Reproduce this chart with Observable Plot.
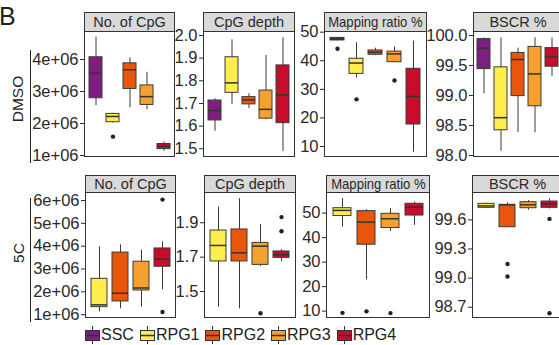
<!DOCTYPE html>
<html><head><meta charset="utf-8">
<script src="https://cdn.jsdelivr.net/npm/d3@7"></script>
<script src="https://cdn.jsdelivr.net/npm/@observablehq/plot@0.6"></script>
<style>
body{margin:0;background:#fff;}
#fig{position:relative;width:559px;height:345px;overflow:hidden;font-family:"Liberation Sans",Arial,sans-serif;color:#222;background:#fff;}
.strip{position:absolute;box-sizing:border-box;border:1px solid #333;background:#d9d9d9;display:flex;align-items:center;justify-content:center;font-size:14.5px;white-space:nowrap;color:#2a2a2a;overflow:hidden;}
.strip span{display:inline-block;}
.rowlab{position:absolute;font-size:15.5px;line-height:1;white-space:nowrap;transform:translate(-50%,-50%) rotate(-90deg);}
.vline{position:absolute;width:1.3px;background:#222;}
#legend{position:absolute;left:85px;top:325px;display:flex;gap:6px;align-items:center;font-size:16px;line-height:20px;}
.item{display:flex;align-items:center;gap:1px;}
svg text{font-family:"Liberation Sans",Arial,sans-serif;}
</style></head>
<body><div id="fig"></div>
<script>
// ---------- data ----------
const groups = ["SSC", "RPG1", "RPG2", "RPG3", "RPG4"];
const groupColors = ["#7E1E80", "#FDEE4E", "#E8560C", "#F4A12F", "#C70C2C"];
const groupsDMSO = ["SSC", "RPG1", "RPG2", "RPG3", "RPG4"];
const groups5C = ["RPG1", "RPG2", "RPG3", "RPG4"];
const rowLabels = ["DMSO", "5C"];
const panelTitles = ["No. of CpG", "CpG depth", "Mapping ratio %", "BSCR %"];

// [group, lower whisker, Q1, median, Q3, upper whisker]
const dmsoCpgN = [
  ["SSC", 2.56e6, 2.79e6, 3.57e6, 4.07e6, 4.70e6],
  ["RPG1", 2.01e6, 2.04e6, 2.22e6, 2.30e6, 2.32e6],
  ["RPG2", 2.49e6, 3.08e6, 3.68e6, 3.88e6, 4.05e6],
  ["RPG3", 2.43e6, 2.58e6, 2.84e6, 3.19e6, 3.60e6],
  ["RPG4", 1.13e6, 1.20e6, 1.29e6, 1.36e6, 1.42e6]
];
const dmsoCpgNOut = [["RPG1", 1.59e6]];

const dmsoDepth = [
  ["SSC", 1.577, 1.625, 1.669, 1.713, 1.721],
  ["RPG1", 1.696, 1.747, 1.791, 1.904, 1.981],
  ["RPG2", 1.677, 1.696, 1.716, 1.728, 1.743],
  ["RPG3", 1.628, 1.633, 1.674, 1.757, 1.912],
  ["RPG4", 1.488, 1.613, 1.738, 1.868, 1.990]
];
const dmsoDepthOut = [];

const dmsoMap = [
  ["SSC", 47.0, 47.1, 47.6, 48.0, 48.2],
  ["RPG1", 34.0, 35.4, 39.2, 40.7, 46.3],
  ["RPG2", 41.8, 42.1, 43.0, 43.6, 44.4],
  ["RPG3", 39.3, 39.5, 42.4, 43.2, 44.8],
  ["RPG4", 8.0, 17.7, 27.5, 37.2, 46.9]
];
const dmsoMapOut = [["SSC", 44.2], ["RPG1", 26.5], ["RPG3", 33.1]];

const dmsoBscr = [
  ["SSC", 99.03, 99.44, 99.79, 99.94, 99.96],
  ["RPG1", 98.07, 98.42, 98.63, 99.47, 99.96],
  ["RPG2", 98.38, 98.99, 99.60, 99.71, 99.79],
  ["RPG3", 98.38, 98.82, 99.36, 99.81, 99.96],
  ["RPG4", 99.32, 99.48, 99.65, 99.79, 99.96]
];
const dmsoBscrOut = [];

const c5CpgN = [
  ["RPG1", 1.12e6, 1.33e6, 1.43e6, 2.57e6, 3.97e6],
  ["RPG2", 1.26e6, 1.58e6, 1.94e6, 3.72e6, 4.06e6],
  ["RPG3", 1.33e6, 2.06e6, 2.17e6, 3.32e6, 3.83e6],
  ["RPG4", 2.09e6, 3.10e6, 3.43e6, 3.90e6, 4.19e6]
];
const c5CpgNOut = [["RPG4", 6.04e6], ["RPG4", 1.12e6]];

const c5Depth = [
  ["RPG1", 1.409, 1.675, 1.768, 1.855, 1.991],
  ["RPG2", 1.399, 1.675, 1.725, 1.861, 2.040],
  ["RPG3", 1.646, 1.655, 1.764, 1.783, 1.890],
  ["RPG4", 1.675, 1.696, 1.714, 1.733, 1.743]
];
const c5DepthOut = [["RPG3", 1.374], ["RPG4", 1.933], ["RPG4", 1.851]];

const c5Map = [
  ["RPG1", 44.3, 48.8, 51.1, 52.0, 55.9],
  ["RPG2", 22.8, 37.1, 46.3, 50.8, 51.4],
  ["RPG3", 42.5, 43.9, 47.7, 49.7, 51.8],
  ["RPG4", 45.0, 49.0, 52.4, 53.8, 54.5]
];
const c5MapOut = [["RPG1", 9.3], ["RPG2", 9.9], ["RPG3", 9.2]];

const c5Bscr = [
  ["RPG1", 99.720, 99.724, 99.744, 99.765, 99.772],
  ["RPG2", 99.524, 99.524, 99.755, 99.755, 99.775],
  ["RPG3", 99.700, 99.720, 99.755, 99.782, 99.800],
  ["RPG4", 99.713, 99.724, 99.765, 99.789, 99.816]
];
const c5BscrOut = [["RPG2", 99.146], ["RPG2", 99.016], ["RPG4", 99.61], ["RPG4", 98.638]];

// tick values
const ticksDmsoCpgN = [1e6, 2e6, 3e6, 4e6];
const ticksDmsoDepth = [1.5, 1.6, 1.7, 1.8, 1.9, 2.0];
const ticksDmsoMap = [10, 20, 30, 40, 50];
const ticksDmsoBscr = [98.0, 98.5, 99.0, 99.5, 100.0];
const ticks5CpgN = [1e6, 2e6, 3e6, 4e6, 5e6, 6e6];
const ticks5Depth = [1.5, 1.7, 1.9];
const ticks5Map = [10, 20, 30, 40, 50];
const ticks5Bscr = [98.7, 99.0, 99.3, 99.6];

// ---------- layout ----------
const fig = document.getElementById("fig");
const sci = d => `${Math.round(d / 1e6)}e+06`;
const f1 = d3.format(".1f");
const fInt = d3.format("d");
const ML = 60;

function boxPanel(stats, outliers, domainX, domainY, ticks, fmt, box, stripTop, title, titleScale) {
  const [L, T, R, B] = box;
  const rows = stats.map(([g, lo, q1, md, q3, hi]) => ({g, lo, q1, md, q3, hi}));
  const outs = outliers.map(([g, v]) => ({g, v}));
  const svg = Plot.plot({
    width: R - L + ML + 1,
    height: B - T + 2,
    marginLeft: ML, marginRight: 1, marginTop: 1, marginBottom: 1,
    style: {background: "transparent", fontSize: "16.5px", fontFamily: '"Liberation Sans", Arial, sans-serif', color: "#2a2a2a", overflow: "visible"},
    x: {type: "band", domain: domainX, paddingInner: 0.25, paddingOuter: 0.225, axis: null},
    y: {domain: domainY, ticks: ticks, tickFormat: fmt, tickSize: 4, tickPadding: 2, label: null},
    color: {domain: groups, range: groupColors},
    marks: [
      Plot.ruleX(rows, {x: "g", y1: "lo", y2: "hi", stroke: "#3a3a3a", strokeWidth: 1}),
      Plot.barY(rows, {x: "g", y1: "q1", y2: "q3", fill: "g", stroke: "#3a3a3a", strokeWidth: 1}),
      Plot.tickY(rows, {x: "g", y: "md", stroke: "#333", strokeWidth: 1.5}),
      Plot.dot(outs, {x: "g", y: "v", r: 2.2, fill: "#222", stroke: "none"}),
      Plot.frame({stroke: "#333", strokeWidth: 1})
    ]
  });
  svg.style.position = "absolute";
  svg.style.left = (L - ML) + "px";
  svg.style.top = (T - 1) + "px";
  svg.style.maxWidth = "none";
  fig.append(svg);

  const s = document.createElement("div");
  s.className = "strip";
  s.style.left = L + "px";
  s.style.top = stripTop + "px";
  s.style.width = (R - L + 1) + "px";
  s.style.height = (T - stripTop + 1) + "px";
  const sp = document.createElement("span");
  sp.textContent = title;
  if (titleScale) sp.style.transform = `scaleX(${titleScale})`;
  s.append(sp);
  fig.append(s);
}

// DMSO row
boxPanel(dmsoCpgN, dmsoCpgNOut, groupsDMSO, [0.969e6, 4.875e6], ticksDmsoCpgN, sci, [84, 31, 174, 156], 12, panelTitles[0]);
boxPanel(dmsoDepth, dmsoDepthOut, groupsDMSO, [1.466, 2.0176], ticksDmsoDepth, f1, [203, 31, 294, 156], 12, panelTitles[1]);
boxPanel(dmsoMap, dmsoMapOut, groupsDMSO, [6.5, 50.24], ticksDmsoMap, fInt, [324, 31, 426, 156], 12, panelTitles[2], 0.9);
boxPanel(dmsoBscr, dmsoBscrOut, groupsDMSO, [97.983, 100.067], ticksDmsoBscr, f1, [473, 31, 562, 156], 12, panelTitles[3]);
// 5C row
boxPanel(c5CpgN, c5CpgNOut, groups5C, [0.877e6, 6.35e6], ticks5CpgN, sci, [85, 192, 175, 317], 175, panelTitles[0]);
boxPanel(c5Depth, c5DepthOut, groups5C, [1.349, 2.076], ticks5Depth, f1, [204, 192, 295, 317], 175, panelTitles[1]);
boxPanel(c5Map, c5MapOut, groups5C, [7.4, 58.4], ticks5Map, fInt, [326, 192, 429, 317], 175, panelTitles[2], 0.9);
boxPanel(c5Bscr, c5BscrOut, groups5C, [98.594, 99.882], ticks5Bscr, f1, [472, 192, 562, 317], 175, panelTitles[3]);

// panel letter
const letter = document.createElement("div");
letter.textContent = "B";
Object.assign(letter.style, {position: "absolute", left: "-1px", top: "4px", fontSize: "25px", lineHeight: "1"});
fig.append(letter);

// row labels with vertical rules
[[rowLabels[0], 17.5, 99, 50, 163], [rowLabels[1], 19, 253, 198, 322]].forEach(([txt, cx, cy, y0, y1]) => {
  const d = document.createElement("div");
  d.className = "rowlab";
  d.textContent = txt;
  d.style.left = cx + "px";
  d.style.top = cy + "px";
  fig.append(d);
  const l = document.createElement("div");
  l.className = "vline";
  l.style.left = "30px";
  l.style.top = y0 + "px";
  l.style.height = (y1 - y0) + "px";
  fig.append(l);
});

// legend
const leg = document.createElement("div");
leg.id = "legend";
groups.forEach((g, i) => {
  const it = document.createElement("div");
  it.className = "item";
  it.innerHTML = `<svg width="15" height="20" style="display:block">
    <line x1="7.5" x2="7.5" y1="1" y2="19" stroke="#333" stroke-width="1"/>
    <rect x="0.5" y="5.5" width="14" height="10" fill="${groupColors[i]}" stroke="#333" stroke-width="1"/>
    <line x1="0.5" x2="14.5" y1="10.5" y2="10.5" stroke="#333" stroke-width="1.5"/>
  </svg><span>${g}</span>`;
  leg.append(it);
});
fig.append(leg);
</script>
</body></html>
